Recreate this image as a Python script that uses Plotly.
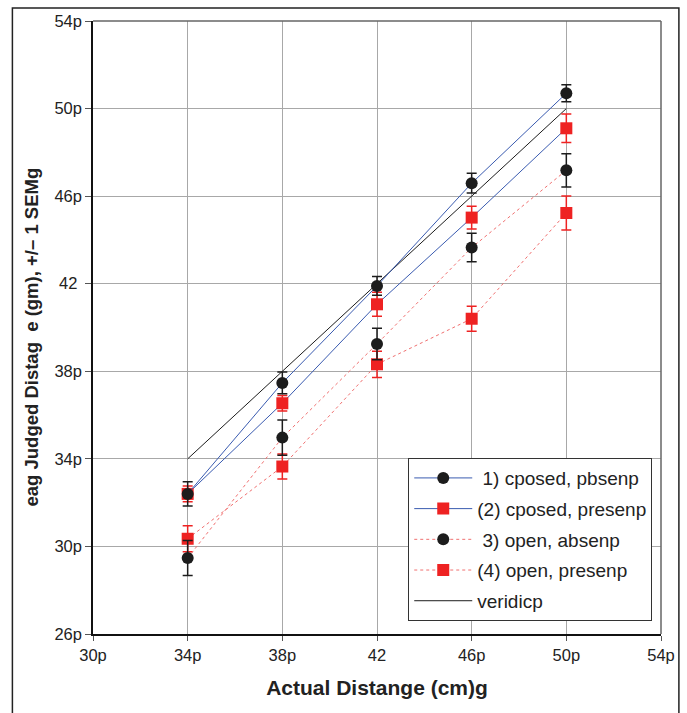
import plotly.graph_objects as go

x_vals = [34, 38, 42, 46, 50]

s1_name = " 1) cposed, pbsenp"
s1_y = [32.4, 37.47, 41.9, 46.59, 50.7]
s1_err = [0.55, 0.5, 0.43, 0.45, 0.39]

s2_name = "(2) cposed, presenp"
s2_y = [32.4, 36.54, 41.06, 45.02, 49.1]
s2_err = [0.36, 0.35, 0.55, 0.52, 0.65]

s3_name = " 3) open, absenp"
s3_y = [29.47, 34.97, 39.25, 43.65, 47.18]
s3_err = [0.8, 0.8, 0.72, 0.65, 0.76]

s4_name = "(4) open, presenp"
s4_y = [30.35, 33.65, 38.32, 40.4, 45.23]
s4_err = [0.59, 0.57, 0.6, 0.57, 0.78]

ver_name = "veridicp"
ver_x = [34, 50]
ver_y = [34, 50]

x_tickvals = [30, 34, 38, 42, 46, 50, 54]
x_ticktext = ["30p", "34p", "38p", "42", "46p", "50p", "54p"]
y_tickvals = [26, 30, 34, 38, 42, 46, 50, 54]
y_ticktext = ["26p", "30p", "34p", "38p", "42 ", "46p", "50p", "54p"]

x_title = "Actual Distange (cm)g"
y_title = "eag Judged Distag  e (gm), +/\u2013 1 SEMg"

BLUE = "#3a5bb0"
RED = "#ee2222"
REDL = "#f07070"
BLACK = "#1c1c1c"

fig = go.Figure()

def add_series(name, y, err, line_color, dash, marker_color, symbol, err_color, rank):
    fig.add_trace(go.Scatter(
        x=x_vals, y=y, name=name, mode="lines+markers",
        legendgroup=name, legendrank=rank,
        line=dict(color=line_color, width=1, dash=dash),
        marker=dict(color=marker_color, symbol=symbol, size=12,
                    line=dict(width=0)),
        error_y=dict(type="data", array=err, visible=True,
                     color=err_color, thickness=1.5, width=5),
    ))

fig.add_trace(go.Scatter(x=ver_x, y=ver_y, name=ver_name, mode="lines",
                         legendgroup=ver_name, legendrank=1005,
                         line=dict(color=BLACK, width=1)))
add_series(s4_name, s4_y, s4_err, REDL, "dot", RED, "square", RED, 1004)
add_series(s3_name, s3_y, s3_err, REDL, "dot", BLACK, "circle", BLACK, 1003)
add_series(s2_name, s2_y, s2_err, BLUE, "solid", RED, "square", RED, 1002)
add_series(s1_name, s1_y, s1_err, BLUE, "solid", BLACK, "circle", BLACK, 1001)

font_family = "Liberation Sans, Arial, sans-serif"

fig.update_layout(
    width=687, height=713,
    margin=dict(l=93, r=23, t=21, b=79),
    paper_bgcolor="white", plot_bgcolor="white",
    font=dict(family=font_family, color="#222222", size=16),
    showlegend=True,
    legend=dict(
        x=0.555, y=0.287, xanchor="left", yanchor="top",
        bgcolor="white", bordercolor="#333333", borderwidth=1,
        font=dict(size=19, family=font_family, color="#222222"),
        traceorder="grouped", itemwidth=58, tracegroupgap=3,
    ),
    xaxis=dict(
        range=[30, 54], tickvals=x_tickvals, ticktext=x_ticktext,
        showgrid=True, gridcolor="#a8a8a8", gridwidth=1,
        showline=True, linecolor="#111111", linewidth=1.5,
        ticks="outside", ticklen=5, tickcolor="#555555",
        zeroline=False,
        title=dict(text=x_title, font=dict(size=21, family=font_family, weight="bold", color="#222222"), standoff=18),
        tickfont=dict(size=16.5),
    ),
    yaxis=dict(
        range=[26, 54], tickvals=y_tickvals, ticktext=y_ticktext,
        showgrid=True, gridcolor="#a8a8a8", gridwidth=1,
        showline=True, linecolor="#111111", linewidth=1.5,
        ticks="outside", ticklen=6, tickcolor="#555555",
        zeroline=False,
        tickfont=dict(size=16.5),
    ),
    annotations=[
        dict(text="<b>" + y_title + "</b>", xref="paper", yref="paper",
             x=-0.110, y=0.4845, xanchor="center", yanchor="middle",
             textangle=-90, showarrow=False,
             font=dict(size=18.5, family=font_family, color="#222222")),
    ],
    shapes=[
        dict(type="line", xref="paper", yref="paper", x0=0, x1=1, y0=1, y1=1,
             line=dict(color="#666666", width=1.5)),
        dict(type="line", xref="paper", yref="paper", x0=1, x1=1, y0=0, y1=1,
             line=dict(color="#666666", width=1.5)),
        dict(type="path", xref="paper", yref="paper",
             path="M -0.1419,-0.15 L -0.1419,1.0212 L 1.0315,1.0212 L 1.0315,-0.15",
             line=dict(color="#222222", width=1.5)),
    ],
)

fig.write_html(
    "out.html",
    config={"displayModeBar": False},
    post_script="document.body.style.margin='0';document.body.style.overflow='hidden';",
)
